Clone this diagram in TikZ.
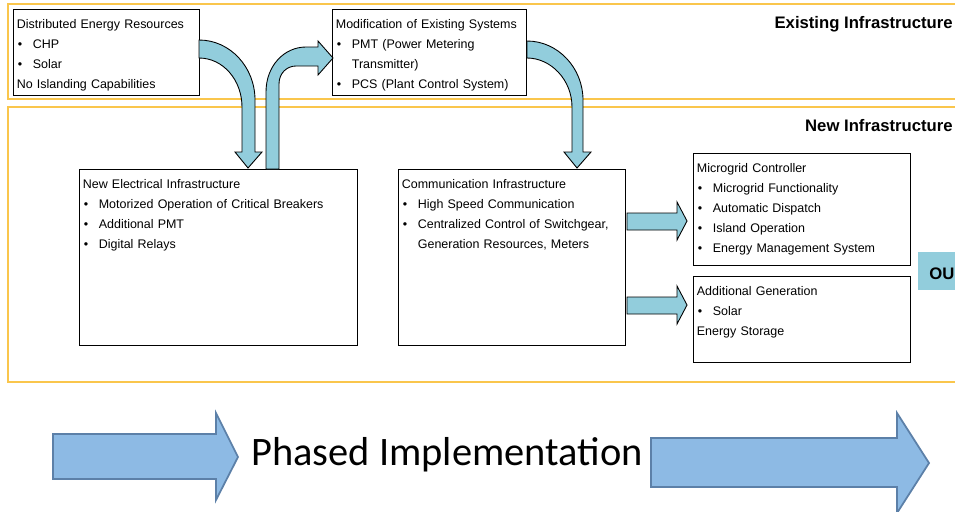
\documentclass[tikz,border=0pt]{standalone}
\usepackage{fontspec}
\setmainfont{Liberation Sans}
\newfontfamily\phasefont{Carlito}

\definecolor{bandline}{RGB}{250,198,76}
\definecolor{aqua}{RGB}{146,205,220}
\definecolor{phasefill}{RGB}{141,186,228}
\definecolor{phaseline}{RGB}{92,128,168}

\newcommand{\bul}{\par\noindent\makebox[9.1pt][l]{\hspace{0.6pt}\textbullet}}
\newcommand{\cont}{\par\noindent\hspace*{9.1pt}}
\newcommand{\nobul}{\par\noindent}

\begin{document}
\begin{tikzpicture}[x=0.02cm, y=-0.02cm,
    band/.style={draw=bandline, line width=0.9pt},
    box/.style={draw, line width=0.5pt, anchor=north west, inner sep=0pt},
    txt/.style={anchor=north west, inner xsep=2pt, inner ysep=3pt, align=left,
      text width=#1, font=\fontsize{7.1pt}{11.4pt}\selectfont},
    lbl/.style={inner sep=0pt, font=\fontsize{9.5pt}{11pt}\selectfont\bfseries},
    flow/.style={draw, fill=aqua, line width=0.5pt, line join=miter},
    phase/.style={draw=phaseline, fill=phasefill, line width=1pt}]
      \path[use as bounding box] (0,0) rectangle (955,511);
      \clip (0,0) rectangle (955,511);

      % infrastructure bands
      \draw[band] (8,4) rectangle (970,99);
      \draw[band] (8,107) rectangle (970,382);
      \node[lbl, anchor=base east] (existlbl) at (953,28) {Existing Infrastructure};
      \node[lbl, anchor=base east] (newlbl) at (953,131) {New Infrastructure};

      % boxes
      \node[box, minimum width=3.72cm, minimum height=1.72cm] (der) at (13,9) {};
      \node[box, minimum width=3.88cm, minimum height=1.72cm] (mod) at (332,9) {};
      \node[box, minimum width=5.56cm, minimum height=3.52cm] (elec) at (79,169) {};
      \node[box, minimum width=4.54cm, minimum height=3.52cm] (comm) at (398,169) {};
      \node[box, minimum width=4.34cm, minimum height=2.24cm] (mgc) at (693,153) {};
      \node[box, minimum width=4.34cm, minimum height=1.72cm] (gen) at (693,276) {};

      \node[txt=3.55cm] (dertxt) at (der.north west) {\strut Distributed Energy Resources\bul CHP\bul Solar\nobul No Islanding Capabilities};
      \node[txt=3.7cm] (modtxt) at (mod.north west) {\strut Modification of Existing Systems\bul PMT (Power Metering\cont Transmitter)\bul PCS (Plant Control System)};
      \node[txt=5.4cm] (electxt) at (elec.north west) {\strut New Electrical Infrastructure\bul Motorized Operation of Critical Breakers\bul Additional PMT\bul Digital Relays};
      \node[txt=4.4cm] (commtxt) at (comm.north west) {\strut Communication Infrastructure\bul High Speed Communication\bul Centralized Control of Switchgear,\cont Generation Resources, Meters};
      \node[txt=4.2cm] (mgctxt) at (mgc.north west) {\strut Microgrid Controller\bul Microgrid Functionality\bul Automatic Dispatch\bul Island Operation\bul Energy Management System};
      \node[txt=4.2cm] (gentxt) at (gen.north west) {\strut Additional Generation\bul Solar\nobul Energy Storage};

      \node[fill=aqua, anchor=north west, inner sep=0pt, minimum width=0.8cm, minimum height=0.76cm] (outbox) at (918,252) {};
      \node[lbl, anchor=base west] (outlbl) at (929,279) {OU};

      % curved arrows
      \draw[flow] (199,40) .. controls (230,40) and (255,67) .. (255,100) -- (255,152) -- (262,152)
        -- (248,168) -- (235,152) -- (242,152) -- (242,107) .. controls (242,80) and (223,58) .. (199,58) -- cycle;
      \draw[flow] (266,169) -- (266,92) .. controls (266,66) and (284,47) .. (306,47) -- (318,47) -- (318,41)
        -- (333,58) -- (318,75) -- (318,66) -- (296,66) .. controls (287,66) and (279,73) .. (279,84) -- (279,169) -- cycle;
      \draw[flow] (527,41) .. controls (558,41) and (583,68) .. (583,100) -- (583,152) -- (591,152)
        -- (577,168) -- (564,152) -- (572,152) -- (572,107) .. controls (572,80) and (551,58) .. (527,58) -- cycle;

      % straight arrows
      \draw[flow] (627,213) -- (677,213) -- (677,202) -- (687,221) -- (677,240) -- (677,230) -- (627,230) -- cycle;
      \draw[flow] (627,297) -- (677,297) -- (677,286) -- (687,305) -- (677,324) -- (677,314) -- (627,314) -- cycle;

      % phased implementation
      \draw[phase] (53,434) -- (216,434) -- (216,413) -- (238,457) -- (216,500) -- (216,479) -- (53,479) -- cycle;
      \draw[phase] (651,438) -- (897,438) -- (897,413) -- (929,463) -- (897,513) -- (897,487) -- (651,487) -- cycle;
      \node[inner sep=0pt, anchor=base, font=\phasefont\fontsize{23pt}{26pt}\selectfont] (phasetxt) at (447,465) {Phased Implementation};
\end{tikzpicture}
\end{document}
